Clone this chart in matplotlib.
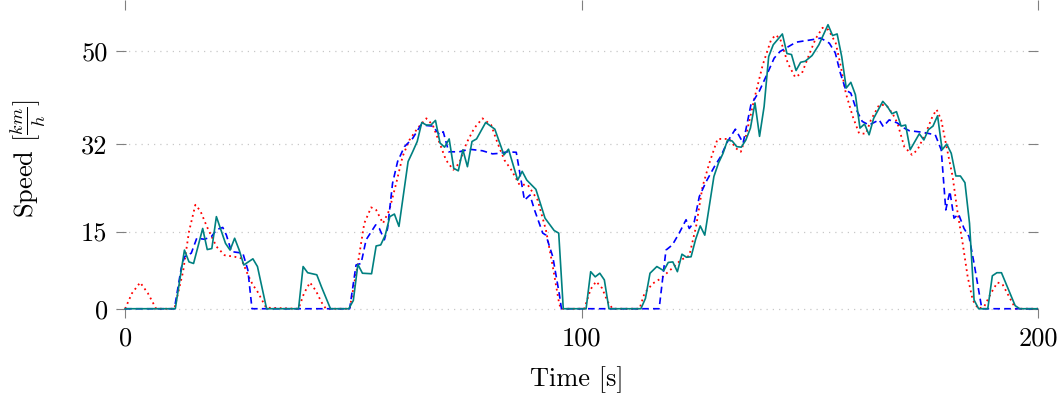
import matplotlib
matplotlib.use('Agg')
import matplotlib.pyplot as plt

plt.rcParams['font.family'] = ['cmr10', 'DejaVu Serif']
plt.rcParams['mathtext.fontset'] = 'cm'
plt.rcParams['axes.formatter.use_mathtext'] = True

# measured speed (teal, solid)
t_meas = [0, 11, 13, 14, 15, 17, 18, 19, 20, 22, 23, 24, 25, 26, 28, 29, 31, 38, 39, 40,
          42, 43, 45, 49, 50, 51, 52, 54, 55, 56, 57, 58, 59, 60, 62, 63, 64, 65, 66, 67,
          68, 69, 70, 71, 72, 73, 74, 75, 76, 77, 79, 81, 83, 84, 86, 87, 88, 90, 92, 94,
          95, 96, 101, 102, 103, 104, 105, 106, 113, 114, 115, 116.5, 118, 119, 120, 121,
          122, 123, 124, 125, 126, 127, 129, 130, 131, 132, 133, 134, 135, 136, 137, 138,
          139, 140, 141, 142, 144, 145, 146, 147, 148, 149, 150.5, 152, 154, 155, 156, 157,
          158, 159, 160, 161, 162, 163, 164, 166, 167, 168, 169, 170, 171, 172, 174, 175,
          176, 177, 178, 179, 180, 181, 182, 183, 184, 185, 186, 187, 189, 190, 191, 192,
          194, 195, 196, 200]
v_meas = [0, 0, 11.4, 9.1, 8.8, 15.6, 11.5, 11.7, 17.9, 12.7, 11.4, 13.7, 11.4, 8.5, 9.7,
          8.2, 0, 0, 8.2, 7.0, 6.6, 4.3, 0, 0, 1.6, 8.6, 6.9, 6.8, 12.2, 12.4, 14.3, 17.9,
          18.4, 16.0, 28.6, 30.5, 32.5, 36.2, 35.7, 35.7, 36.6, 32.2, 31.4, 33.0, 27.3, 26.8,
          30.9, 27.6, 32.5, 33.0, 36.2, 34.9, 29.9, 31.0, 25.0, 26.7, 25.0, 23.2, 17.6, 15.2,
          14.7, 0, 0, 7.2, 6.2, 6.9, 5.6, 0, 0, 2.0, 6.9, 8.2, 7.4, 9.0, 9.1, 7.2, 10.6,
          10.0, 10.1, 13.5, 16.1, 14.3, 25.7, 28.3, 30.2, 32.8, 32.6, 31.5, 31.4, 32.8, 35.1,
          40.0, 33.5, 39.3, 49.0, 51.3, 53.4, 49.6, 49.4, 46.3, 47.9, 48.1, 49.2, 51.3, 55.2,
          53.1, 53.4, 49.0, 42.9, 44.0, 41.6, 35.1, 35.9, 33.8, 37.0, 40.3, 39.3, 37.9, 38.3,
          35.5, 35.7, 30.9, 34.0, 32.8, 34.8, 35.5, 37.5, 30.9, 32.0, 30.2, 25.8, 25.8, 24.5,
          16.6, 1.7, 0, 0, 6.4, 7.0, 7.0, 2.7, 0.6, 0, 0]

# reference profile (red, dotted)
t_ref = [0, 1.5, 3.3, 5, 6.8, 10.8, 12.7, 14, 15.4, 16.5, 17.9, 20, 21.8, 24, 25.4, 26.9,
         28, 28.9, 30.9, 38, 39.2, 40.5, 41.8, 43, 44, 49.2, 51, 52.4, 53.9, 55, 56.5, 57.2,
         57.9, 59.4, 60.8, 62.3, 64.1, 66, 67.4, 68.9, 70.3, 71.9, 73.2, 74.8, 76.5, 78.3,
         80.2, 81.6, 83.1, 84.6, 86.4, 88.2, 90.4, 92.2, 93.7, 95.1, 95.5, 100.6, 102, 103.2,
         104.5, 105.7, 106.8, 112.7, 113.8, 115.6, 117.4, 119.9, 121.8, 123.6, 125.1, 126.5,
         128, 129.8, 132.4, 133.8, 134.9, 136, 137.8, 139.7, 141.5, 142.5, 143.5, 145.2,
         146.8, 148.3, 150, 151.3, 152.8, 154.1, 155.7, 156.8, 157.9, 159.4, 160.8, 162.3,
         163.4, 165.2, 166.7, 168.1, 169.2, 170.7, 172.4, 173.6, 175.4, 176.9, 177.8, 178.8,
         179.8, 181.3, 182.4, 183.5, 184.6, 185.7, 186.9, 188.2, 189.7, 191.1, 192.2, 193.7,
         195.1, 200]
v_ref = [0, 3.0, 5.1, 3.0, 0, 0, 7.2, 15.0, 20.2, 19.0, 16.0, 12.1, 10.4, 10.1, 9.8, 6.6,
         4.6, 3.5, 0.2, 0, 3.0, 5.1, 3.5, 1.3, 0, 0, 8.8, 16.6, 19.7, 19.2, 16.6, 17.9, 19.2,
         24.4, 29.6, 32.8, 35.1, 37.0, 35.7, 32.2, 28.9, 27.0, 28.3, 32.2, 35.1, 37.0, 35.7,
         32.2, 28.9, 27.0, 24.1, 24.1, 21.1, 15.3, 8.2, 1.0, 0, 0, 3.8, 5.3, 4.0, 1.4, 0, 0,
         3.0, 4.9, 5.9, 7.9, 9.5, 10.3, 16.0, 23.7, 28.3, 33.0, 33.0, 31.2, 30.5, 33.5, 40.6,
         47.4, 52.2, 53.2, 52.5, 47.7, 45.0, 45.8, 49.7, 52.5, 54.6, 54.2, 51.6, 47.1, 41.9,
         37.4, 34.1, 34.0, 36.7, 39.6, 39.6, 38.0, 36.1, 31.5, 29.9, 30.9, 34.1, 37.4, 38.7,
         36.7, 32.2, 25.7, 18.6, 12.7, 6.2, 1.7, 0, 0.4, 3.0, 5.1, 4.8, 2.3, 0, 0]

# estimated speed (blue, dashed)
t_est = [0, 10.8, 12.3, 13, 14.5, 15.7, 17.4, 18.9, 20.1, 21.4, 22.2, 23.3, 25.8, 26.9,
         27.8, 49.2, 50.6, 51.7, 52.8, 54.9, 55.7, 56.8, 57.5, 58.6, 59.7, 61.2, 63, 64.8,
         67.4, 68.9, 69.7, 70.9, 73.2, 75.4, 78.3, 80.5, 82, 83.8, 85.7, 87.5, 88.7, 89.7,
         91.5, 92.2, 93.7, 95.1, 95.6, 117, 118.5, 119.9, 121.4, 122.9, 123.6, 124.7, 125.8,
         127.3, 129.1, 130.5, 132, 133.7, 134.6, 135.4, 136, 137.1, 138.9, 140.4, 142.2,
         143.5, 147, 150.6, 152.4, 154.3, 155.6, 156.7, 157.9, 159, 160.2, 161.5, 163, 165.2,
         166.1, 167.4, 169.2, 170.7, 171.8, 174.7, 177.5, 178.8, 179.8, 180.7, 181.6, 182.6,
         183.8, 184.9, 186, 187.7, 200]
v_est = [0, 0, 7.9, 10.1, 10.8, 13.7, 13.5, 14.0, 15.4, 15.8, 14.3, 11.1, 10.8, 7.5, 0, 0,
         8.5, 8.8, 13.4, 16.3, 15.6, 13.4, 15.6, 24.4, 28.6, 31.5, 33.1, 35.7, 35.5, 33.8,
         34.4, 30.5, 30.5, 31.0, 30.7, 30.1, 30.2, 30.5, 30.4, 21.1, 22.1, 19.2, 14.7, 14.3,
         10.1, 3.0, 0, 0, 11.4, 12.4, 14.7, 17.3, 15.6, 16.9, 21.8, 24.7, 27.6, 29.6, 32.5,
         34.9, 33.5, 32.2, 34.8, 39.6, 42.2, 45.1, 48.7, 50.0, 51.8, 52.3, 52.6, 51.6, 49.7,
         45.8, 42.5, 41.9, 38.7, 36.4, 35.7, 36.7, 35.4, 36.7, 36.1, 35.1, 34.6, 34.3, 33.8,
         30.9, 19.2, 22.8, 17.6, 18.4, 15.6, 14.0, 8.8, 0, 0]

yticks = [0, 15, 32, 50]
xticks = [0, 100, 200]

fig = plt.figure(figsize=(10.61, 4.0), dpi=100)
ax = fig.add_axes([0.1093, 0.205, 0.869, 0.795])

ax.plot(t_meas, v_meas, color='#008080', lw=1.2, zorder=3)
ax.plot(t_ref, v_ref, color='red', lw=1.3, ls=(0, (1, 2)), zorder=2)
ax.plot(t_est, v_est, color='blue', lw=1.2, ls=(0, (4, 2.5)), zorder=2)

ax.set_xlim(-2, 200)
ax.set_ylim(-1.8, 60)
ax.set_xticks(xticks)
ax.set_xticklabels([str(x) for x in xticks])
ax.set_yticks(yticks)
ax.set_yticklabels([str(y) for y in yticks])

for s in ax.spines.values():
    s.set_visible(False)
ax.yaxis.grid(True, color='#c8c8c8', ls=(0, (1, 4)), lw=0.9)
ax.set_axisbelow(True)
ax.tick_params(direction='in', length=7, width=0.8, color='#808080',
               top=True, right=True, labelsize=19, pad=6)

ax.set_xlabel('Time [s]', fontsize=19, labelpad=12)
ax.set_ylabel(r'Speed [$\frac{km}{h}$]', fontsize=19, labelpad=24)

fig.savefig('out.png', dpi=100)
